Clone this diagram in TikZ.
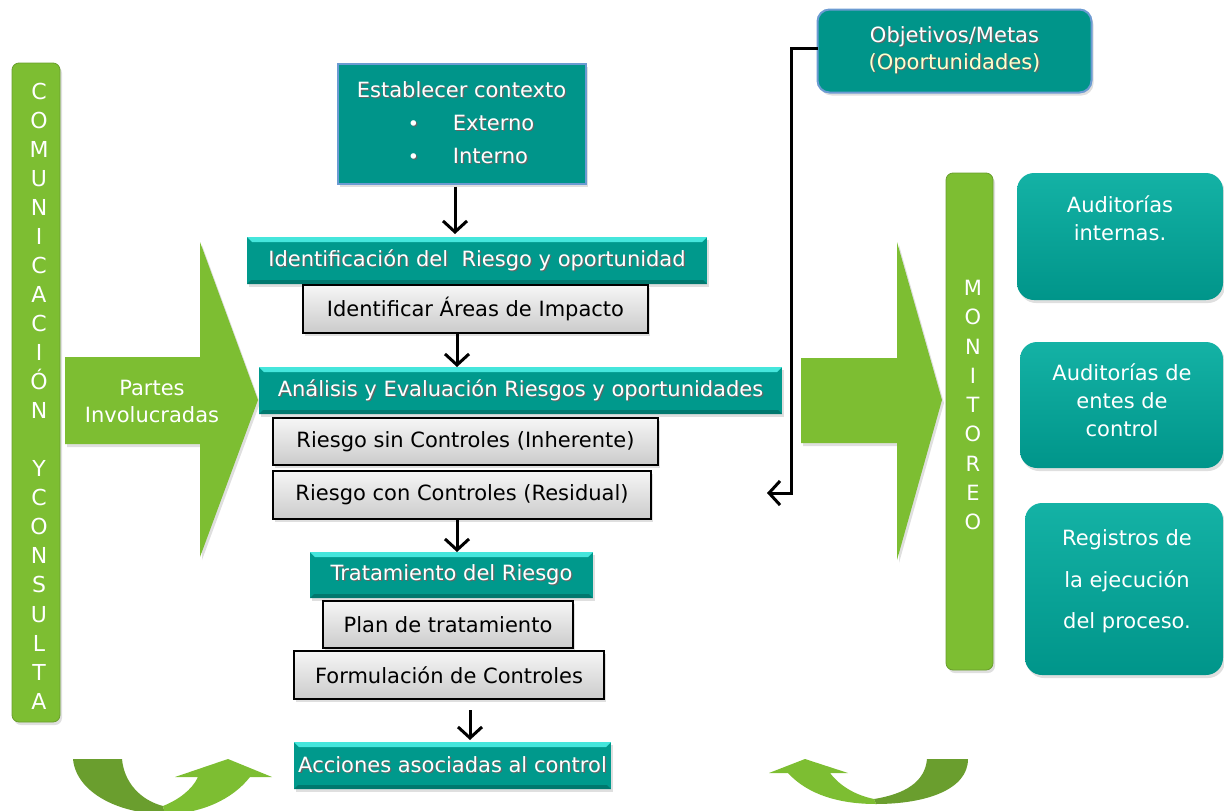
\documentclass[tikz,border=0pt]{standalone}
\usepackage{fontspec}
\setmainfont{DejaVu Sans}
\usetikzlibrary{arrows.meta,shadows}
\definecolor{teal1}{HTML}{00998C}
\definecolor{tealbox}{HTML}{00958A}
\definecolor{tealtop}{HTML}{14B2A5}
\definecolor{tealhi}{HTML}{45E6DC}
\definecolor{tealdk}{HTML}{00786E}
\definecolor{grn}{HTML}{7DBE32}
\definecolor{grndk}{HTML}{6A9E2E}
\definecolor{bordblue}{HTML}{6C9BD2}
\definecolor{txtyel}{HTML}{FFFFCC}
\definecolor{gtop}{HTML}{F6F6F6}
\definecolor{gbot}{HTML}{CBCBCB}
\newcommand\sh[1]{\leavevmode\rlap{\hspace{1.3pt}\raisebox{-1.3pt}{\color{black!60}#1}}#1}
\begin{document}
\begin{tikzpicture}[x=1pt,y=-1pt,
  every node/.style={inner sep=0pt, outer sep=0pt},
  tx/.style={font=\fontsize{21pt}{27pt}\selectfont, align=center},
  shd/.style={drop shadow={opacity=0.25, shadow xshift=2pt, shadow yshift=-3pt}},
  tealbar/.style={shd, fill=teal1, text=white, tx,
    path picture={
      \fill[tealhi] (path picture bounding box.north west) -- (path picture bounding box.north east)
        -- ([shift={(-5pt,-5pt)}]path picture bounding box.north east) -- ([shift={(5pt,-5pt)}]path picture bounding box.north west) -- cycle;
      \fill[tealdk] (path picture bounding box.south west) -- (path picture bounding box.south east)
        -- ([shift={(-4pt,4pt)}]path picture bounding box.south east) -- ([shift={(4pt,4pt)}]path picture bounding box.south west) -- cycle;
    }},
  graybox/.style={shd, draw=black, line width=1.3pt, top color=gtop, bottom color=gbot, text=black, tx},
  greenbar/.style={shd, fill=grn, draw=grndk, line width=0.8pt, rounded corners=7pt},
  roundbox/.style={shd, rounded corners=17pt, top color=tealtop, bottom color=tealbox},
  lettertxt/.style={text=white, font=\fontsize{22pt}{29.05pt}\selectfont, align=center},
  arr/.style={line width=3pt, -{Straight Barb[length=11pt,width=24pt]}},
]
\useasboundingbox (0,0) rectangle (1224,811);

% left bar
\node[greenbar, minimum width=48pt, minimum height=659pt] (com) at (36,392.5) {};
\node[lettertxt] (comtxt) at (39,396) {C\\O\\M\\U\\N\\I\\C\\A\\C\\I\\Ó\\N\\[29.05pt]Y\\C\\O\\N\\S\\U\\L\\T\\A};

% left big arrow
\fill[grn, shd] (65,357) -- (200,357) -- (200,242) -- (258,400) -- (200,557) -- (200,444) -- (65,444) -- cycle;
\node[tx, text=white] (partes) at (152,401) {Partes\\Involucradas};

% right big arrow
\fill[grn, shd] (801,358) -- (897,358) -- (897,242) -- (942,400) -- (897,560) -- (897,443) -- (801,443) -- cycle;

% monitoreo bar
\node[greenbar, minimum width=47pt, minimum height=497pt] (mon) at (969.5,421.5) {};
\node[lettertxt, font=\fontsize{21pt}{29.25pt}\selectfont] (montxt) at (973,405) {M\\O\\N\\I\\T\\O\\R\\E\\O};

% right boxes
\node[roundbox, minimum width=206pt, minimum height=127pt] (aud1) at (1120,236.5) {};
\node[tx, text=white, font=\fontsize{21pt}{28pt}\selectfont] (aud1t) at (1120,218) {Auditorías\\internas.};
\node[roundbox, minimum width=203pt, minimum height=126pt] (aud2) at (1121.5,405) {};
\node[tx, text=white, font=\fontsize{21pt}{28pt}\selectfont] (aud2t) at (1122,400) {Auditorías de\\entes de\\control};
\node[roundbox, minimum width=198pt, minimum height=172pt] (reg) at (1124,589) {};
\node[tx, text=white, font=\fontsize{21pt}{41.5pt}\selectfont] (regt) at (1127,581.5) {Registros de\\la ejecución\\del proceso.};

% objetivos
\node[shd, fill=tealbox, draw=bordblue, line width=2pt, rounded corners=12pt, minimum width=274pt, minimum height=83pt,
      tx, font=\fontsize{21pt}{27pt}\selectfont] (obj) at (954.5,51)
  {\textcolor{white}{\sh{Objetivos/Metas}}\\\textcolor{txtyel}{\sh{(Oportunidades)}}};

% establecer contexto
\node[shd, fill=tealbox, draw=bordblue, line width=2pt, minimum width=248pt, minimum height=120pt,
      text=white, font=\fontsize{21pt}{33pt}\selectfont, align=left] (est) at (461.5,123.5)
  {\sh{Establecer contexto}\\
   \makebox[96pt][l]{\hspace*{51pt}\sh{\fontsize{19pt}{19pt}\selectfont •}}\sh{Externo}\\
   \makebox[96pt][l]{\hspace*{51pt}\sh{\fontsize{19pt}{19pt}\selectfont •}}\sh{Interno}};

% central flow
\node[tealbar, minimum width=460pt, minimum height=47pt] (ident) at (477,260.5) {\sh{Identificación del~~Riesgo y oportunidad}};
\node[graybox, minimum width=345pt, minimum height=48pt] (areas) at (475.5,309) {Identificar Áreas de Impacto};
\node[tealbar, minimum width=523pt, minimum height=47pt] (anal) at (520.5,390.5) {\sh{Análisis y Evaluación Riesgos y oportunidades}};
\node[graybox, minimum width=385pt, minimum height=47pt] (rsin) at (465.5,441.5) {Riesgo sin Controles (Inherente)};
\node[graybox, minimum width=378pt, minimum height=48pt] (rcon) at (462,495) {Riesgo con Controles (Residual)};
\node[tealbar, minimum width=283pt, minimum height=46pt] (trat) at (451.5,575) {\sh{Tratamiento del Riesgo}};
\node[graybox, minimum width=250pt, minimum height=47pt] (plan) at (448,624.5) {Plan de tratamiento};
\node[graybox, minimum width=310pt, minimum height=48pt] (form) at (449,675) {Formulación de Controles};
\node[tealbar, minimum width=317pt, minimum height=47pt] (acc) at (452.5,765.5) {\sh{Acciones asociadas al control}};

% arrows
\draw[arr] ([xshift=-6.5pt,yshift=-3pt]est.south) -- ([xshift=-6.5pt,yshift=3pt]est.south |- ident.north);
\draw[arr] ([xshift=-18.5pt]areas.south) -- ([xshift=-18.5pt]areas.south |- anal.north);
\draw[arr] ([xshift=-5pt]rcon.south) -- ([xshift=-5pt]rcon.south |- trat.north);
\draw[arr] ([xshift=21pt,yshift=-11pt]form.south) -- ([xshift=21pt,yshift=2pt]form.south |- acc.north);

% objetivos connector
\coordinate (objend) at (767,493);
\draw[arr] ([yshift=3pt]obj.west) -- ++(-26,0) |- (objend);

% curved arrows
\begin{scope}
\clip (0,0) rectangle (1224,811);
\fill[grndk] (73,759) .. controls (76,792) and (118,814) .. (165,814) -- (163,806) .. controls (140,800) and (124,782) .. (122,759) -- cycle;
\fill[grn] (163,806) .. controls (178,800) and (192,790) .. (198,777) -- (175,777) -- (228,759) -- (272,777) -- (250,777) .. controls (232,800) and (200,814) .. (165,814) -- cycle;
\fill[grndk] (968,759) .. controls (968,790) and (925,804) .. (876,804) -- (874,799) .. controls (905,794) and (925,782) .. (927,759) -- cycle;
\fill[grn] (874,799) .. controls (855,795) and (840,786) .. (830,773) -- (848,773) -- (805,759) -- (769,773) -- (788,773) .. controls (808,795) and (840,804) .. (876,804) -- cycle;
\end{scope}
\end{tikzpicture}
\end{document}
